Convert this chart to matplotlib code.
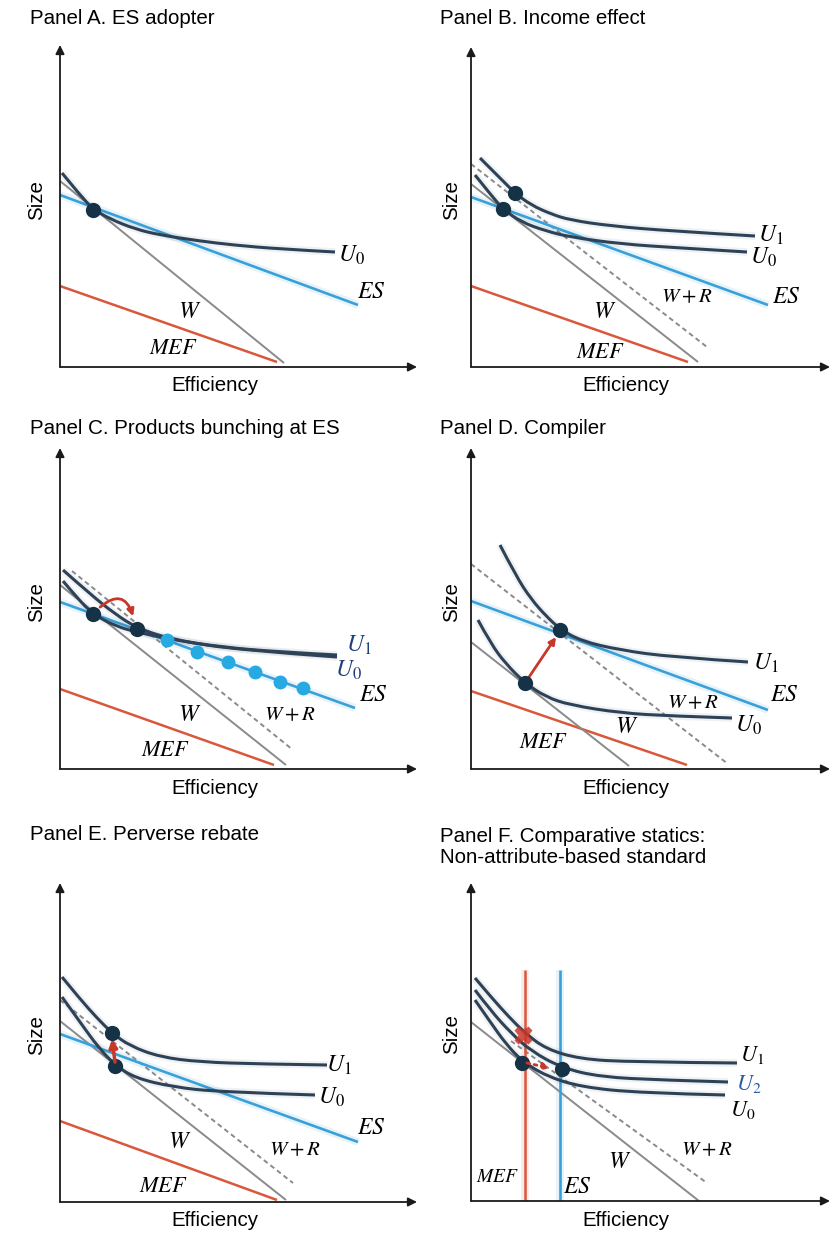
import matplotlib.pyplot as plt
from matplotlib.path import Path
from matplotlib.patches import PathPatch, FancyArrowPatch

plt.rcParams['font.family'] = ['Liberation Sans', 'DejaVu Sans']
plt.rcParams['mathtext.fontset'] = 'stix'

W_PX, H_PX = 833, 1235

NAVY = '#2e4257'
BLUE = '#3aa0d8'
GRAY = '#8a8a8a'
RED = '#d9573b'
DOT = '#163247'
LDOT = '#27a9e1'
ARROW = '#c9372a'

# ---- data (efficiency, size) in arbitrary units, one set per panel ----
# Panel A
a_w = [[0, 224], [186, 4]]
a_es = [[0, 298], [172, 62]]
a_mef = [[0, 217], [81, 5]]
a_u0 = [[2, 20, 33, 50, 75, 100, 140, 173, 220, 275],
        [194, 172, 158, 148, 138, 132, 126, 122, 118, 115]]
a_dots = [[33], [157]]

# Panel B
b_w = [[0, 227], [183, 5]]
b_wr = [[0, 236], [203, 20]]
b_es = [[0, 297], [170, 62]]
b_mef = [[0, 217], [81, 5]]
b_u1 = [[9, 30, 44, 60, 80, 99, 140, 200, 284],
        [209, 188, 174, 162, 153, 147, 141, 136, 131]]
b_u0 = [[4, 20, 32, 50, 75, 99, 150, 210, 276],
        [192, 172, 158, 145, 136, 130, 123, 119, 115]]
b_dots = [[44, 32], [174, 158]]

# Panel C
c_w = [[0, 226], [184, 4]]
c_wr = [[12, 233], [198, 19]]
c_es = [[0, 295], [167, 61]]
c_mef = [[0, 214], [80, 4]]
c_u1 = [[3, 30, 55, 77, 110, 160, 220, 277],
        [199, 175, 155, 141, 130, 122, 117, 114]]
c_u0 = [[3, 18, 33, 55, 80, 120, 180, 277],
        [188, 170, 155, 143, 136, 128, 119, 112]]
c_dots = [[33, 77], [155, 140]]
c_bunch = [[107, 137, 168, 195, 220, 243], [129, 117, 107, 97, 87, 81]]

# Panel D
d_w = [[0, 158], [127, 3]]
d_wr = [[0, 257], [205, 5]]
d_es = [[0, 297], [168, 59]]
d_mef = [[0, 216], [78, 4]]
d_u1 = [[29, 45, 60, 75, 89, 110, 149, 200, 277],
        [224, 193, 170, 153, 140, 128, 119, 112, 107]]
d_u0 = [[7, 20, 35, 54, 75, 99, 150, 200, 261],
        [149, 125, 105, 86, 72, 64, 56, 53, 51]]
d_dots = [[54, 89], [86, 139]]

# Panel E
e_w = [[0, 226], [181, 2]]
e_wr = [[0, 233], [202, 19]]
e_es = [[0, 298], [168, 60]]
e_mef = [[0, 217], [81, 2]]
e_u1 = [[2, 20, 37, 52, 70, 100, 140, 200, 267],
        [225, 203, 184, 169, 156, 145, 140, 138, 137]]
e_u0 = [[2, 20, 38, 55, 75, 113, 160, 255],
        [205, 180, 155, 137, 124, 115, 110, 107]]
e_dots = [[52, 55], [169, 136]]

# Panel F
f_w = [[0, 228], [179, 0]]
f_wr = [[40, 236], [160, 18]]
f_mef = [[54, 54], [0, 231]]
f_es = [[89, 89], [0, 231]]
f_u1 = [[4, 20, 38, 54, 75, 109, 160, 266],
        [223, 204, 184, 168, 152, 142, 139, 138]]
f_u2 = [[4, 20, 40, 60, 91, 130, 190, 257],
        [211, 190, 168, 150, 133, 124, 121, 119]]
f_u0 = [[4, 20, 35, 51, 75, 110, 170, 254],
        [201, 178, 157, 140, 125, 114, 108, 106]]
f_dots = [[51, 91], [138, 132]]
f_cross = [[52], [166]]

# panel frames in pixels: origin x, origin y, right end, top end
frames = {
    'A': (60, 367, 417, 45),
    'B': (471, 367, 830, 47),
    'C': (60, 769, 417, 448),
    'D': (471, 769, 830, 448),
    'E': (60, 1202, 417, 883),
    'F': (471, 1201, 830, 883),
}
titles = {
    'A': 'Panel A. ES adopter',
    'B': 'Panel B. Income effect',
    'C': 'Panel C. Products bunching at ES',
    'D': 'Panel D. Compiler',
    'E': 'Panel E. Perverse rebate',
    'F': 'Panel F. Comparative statics:\nNon-attribute-based standard',
}
title_y = {'A': 18, 'B': 18, 'C': 428, 'D': 428, 'E': 835, 'F': 847}


def smooth(ax, xy, color, lw, z=3):
    xs, ys = xy
    pts = list(zip(xs, ys))
    verts = [pts[0]]
    codes = [Path.MOVETO]
    n = len(pts)
    for i in range(1, n - 1):
        end = pts[-1] if i == n - 2 else ((pts[i][0] + pts[i + 1][0]) / 2, (pts[i][1] + pts[i + 1][1]) / 2)
        verts += [pts[i], end]
        codes += [Path.CURVE3, Path.CURVE3]
    ax.add_patch(PathPatch(Path(verts, codes), fill=False, ec=color, lw=lw * 2.5, alpha=0.07, zorder=z - 1))
    ax.add_patch(PathPatch(Path(verts, codes), fill=False, ec=color, lw=lw, zorder=z, capstyle='butt'))


def line(ax, xy, color, lw, ls='-', z=2, halo=False):
    if halo:
        ax.plot(xy[0], xy[1], color=color, lw=lw * 3, alpha=0.12, zorder=z - 1, solid_capstyle='butt')
    if ls == '--':
        ax.plot(xy[0], xy[1], color=color, lw=lw, zorder=z, dashes=(2.5, 1.8))
    else:
        ax.plot(xy[0], xy[1], color=color, lw=lw, zorder=z, solid_capstyle='butt')


def label(ax, s, x, y, size=17, color='black'):
    ax.text(x, y, s, fontsize=size, color=color, ha='center', va='center', zorder=6, clip_on=False)


def dots(ax, xy, color=DOT, ms=11):
    ax.plot(xy[0], xy[1], 'o', color=color, ms=ms, mec='none', zorder=7)


fig = plt.figure(figsize=(W_PX / 100, H_PX / 100), dpi=100)
axes = {}
for key, (ox, oy, rx, ty) in frames.items():
    ax = fig.add_axes([ox / W_PX, 1 - oy / H_PX, (rx - ox) / W_PX, (oy - ty) / H_PX])
    ax.set_xlim(0, rx - ox)
    ax.set_ylim(0, oy - ty)
    ax.axis('off')
    for tip in [(0, 1), (1, 0)]:
        ax.annotate('', xy=tip, xytext=(0, 0), xycoords='axes fraction',
                    arrowprops=dict(arrowstyle='-|>', color='#1a1a1a', lw=1.3,
                                    mutation_scale=13, shrinkA=0, shrinkB=0))
    tx = 30 if ox < 400 else 440
    fig.text(tx / W_PX, 1 - title_y[key] / H_PX, titles[key], fontsize=14.8, va='center',
             linespacing=1.15)
    sx = 37 if ox < 400 else 452
    fig.text(sx / W_PX, 1 - (oy - 167) / H_PX, 'Size', fontsize=14.8, rotation=90, ha='center', va='center')
    fig.text((ox + 155) / W_PX, 1 - (oy + 19) / H_PX, 'Efficiency', fontsize=14.8, ha='center', va='center')
    axes[key] = ax

# Panel A
ax = axes['A']
line(ax, a_mef, RED, 1.8)
line(ax, a_w, GRAY, 1.4)
line(ax, a_es, BLUE, 1.9, halo=True)
smooth(ax, a_u0, NAVY, 2.2)
dots(ax, a_dots)
label(ax, r'$U_0$', 291, 112)
label(ax, r'$ES$', 311, 75)
label(ax, r'$W$', 130, 55)
label(ax, r'$MEF$', 113, 19, size=16)

# Panel B
ax = axes['B']
line(ax, b_mef, RED, 1.8)
line(ax, b_w, GRAY, 1.4)
line(ax, b_wr, GRAY, 1.4, ls='--')
line(ax, b_es, BLUE, 1.9, halo=True)
smooth(ax, b_u1, NAVY, 2.2)
smooth(ax, b_u0, NAVY, 2.2)
dots(ax, b_dots)
label(ax, r'$U_1$', 300, 132)
label(ax, r'$U_0$', 292, 110)
label(ax, r'$ES$', 315, 70)
label(ax, r'$W+R$', 216, 70, size=15)
label(ax, r'$W$', 134, 55)
label(ax, r'$MEF$', 129, 15, size=16)

# Panel C
ax = axes['C']
line(ax, c_mef, RED, 1.8)
line(ax, c_w, GRAY, 1.4)
line(ax, c_wr, GRAY, 1.4, ls='--')
line(ax, c_es, BLUE, 1.9, halo=True)
smooth(ax, c_u1, NAVY, 2.2)
smooth(ax, c_u0, NAVY, 2.2)
dots(ax, c_bunch, color=LDOT, ms=10)
dots(ax, c_dots)
ax.add_patch(FancyArrowPatch((38, 160), (74, 150), connectionstyle='arc3,rad=-0.8', arrowstyle='-|>',
                             mutation_scale=10, color=ARROW, lw=2, zorder=6))
label(ax, r'$U_1$', 299, 124, color='#1f3f7a')
label(ax, r'$U_0$', 288, 99, color='#1f3f7a')
label(ax, r'$ES$', 313, 74)
label(ax, r'$W+R$', 230, 54, size=15)
label(ax, r'$W$', 130, 54)
label(ax, r'$MEF$', 105, 19, size=16)

# Panel D
ax = axes['D']
line(ax, d_mef, RED, 1.8)
line(ax, d_w, GRAY, 1.4)
line(ax, d_wr, GRAY, 1.4, ls='--')
line(ax, d_es, BLUE, 1.9, halo=True)
smooth(ax, d_u1, NAVY, 2.2)
smooth(ax, d_u0, NAVY, 2.2)
ax.annotate('', xy=(d_dots[0][1] - 4, d_dots[1][1] - 7), xytext=(d_dots[0][0], d_dots[1][0]),
            arrowprops=dict(arrowstyle='-|>', color=ARROW, lw=2, mutation_scale=10, shrinkA=4, shrinkB=0), zorder=6)
dots(ax, d_dots)
label(ax, r'$U_1$', 295, 106)
label(ax, r'$U_0$', 277, 44)
label(ax, r'$ES$', 313, 74)
label(ax, r'$W+R$', 222, 66, size=15)
label(ax, r'$W$', 156, 42)
label(ax, r'$MEF$', 72, 27, size=16)

# Panel E
ax = axes['E']
line(ax, e_mef, RED, 1.8)
line(ax, e_w, GRAY, 1.4)
line(ax, e_wr, GRAY, 1.4, ls='--')
line(ax, e_es, BLUE, 1.9, halo=True)
smooth(ax, e_u1, NAVY, 2.2)
smooth(ax, e_u0, NAVY, 2.2)
dots(ax, e_dots)
ax.annotate('', xy=(e_dots[0][0], e_dots[1][0] - 6), xytext=(e_dots[0][1], e_dots[1][1] + 4),
            arrowprops=dict(arrowstyle='-|>', color=ARROW, lw=2.5, mutation_scale=12, shrinkA=0, shrinkB=0), zorder=8)
label(ax, r'$U_1$', 279, 137)
label(ax, r'$U_0$', 271, 105)
label(ax, r'$ES$', 311, 74)
label(ax, r'$W+R$', 235, 52, size=15)
label(ax, r'$W$', 120, 60)
label(ax, r'$MEF$', 103, 15, size=16)

# Panel F
ax = axes['F']
line(ax, f_w, GRAY, 1.4)
line(ax, f_wr, GRAY, 1.4, ls='--')
line(ax, f_mef, RED, 1.8, halo=True)
line(ax, f_es, BLUE, 1.9, halo=True)
smooth(ax, f_u1, NAVY, 2.2)
smooth(ax, f_u2, NAVY, 2.2)
smooth(ax, f_u0, NAVY, 2.2)
ax.annotate('', xy=(f_dots[0][1] - 12, f_dots[1][1] + 1), xytext=(f_dots[0][0] + 5, f_dots[1][0]),
            arrowprops=dict(arrowstyle='-|>', color=ARROW, lw=2, ls=':', mutation_scale=10, shrinkA=0, shrinkB=0),
            zorder=8)
dots(ax, f_dots)
ax.plot(f_cross[0], f_cross[1], 'X', color=ARROW, ms=13, mec='none', alpha=0.85, zorder=7)
label(ax, r'$U_1$', 281, 146, size=16)
label(ax, r'$U_2$', 278, 117, size=16, color='#2a5aa0')
label(ax, r'$U_0$', 272, 91, size=16)
label(ax, r'$MEF$', 27, 24, size=14)
label(ax, r'$ES$', 106, 14)
label(ax, r'$W$', 149, 39)
label(ax, r'$W+R$', 236, 51, size=15)

fig.savefig('out.png', dpi=100)
